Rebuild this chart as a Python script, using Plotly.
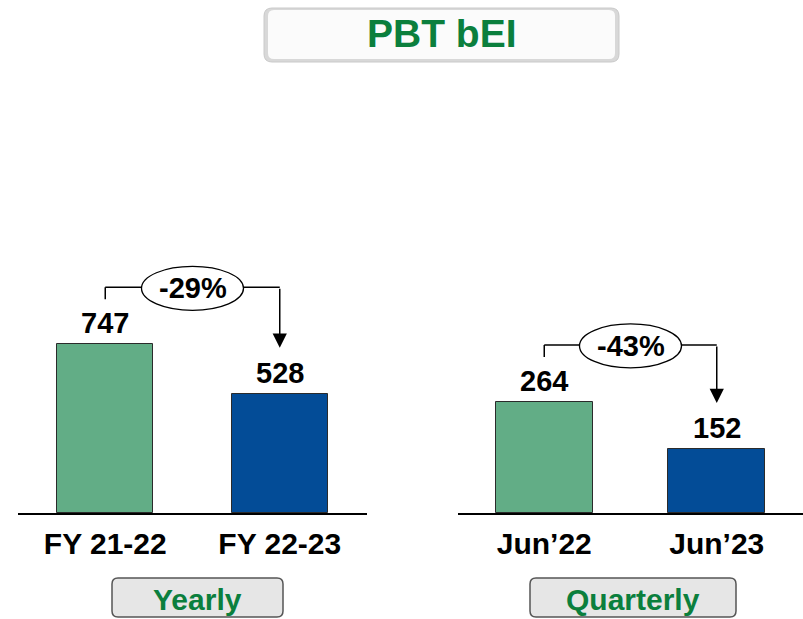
import plotly.graph_objects as go

# ---- data ----
years = ["FY 21-22", "FY 22-23"]
yearly_vals = [747, 528]
quarters = ["Jun’22", "Jun’23"]
quarterly_vals = [264, 152]
yearly_change = "-29%"
quarterly_change = "-43%"
panel_labels = ["Yearly", "Quarterly"]
title_text = "PBT bEI"

bar_colors = ["#62ad86", "#034c97"]
green_txt = "#0b7f3d"
FONT = "Liberation Sans, Arial, sans-serif"

W, H = 803, 619
BASE = 513          # baseline pixel row
YL_MAX = 2272       # left y range max
YR_MAX = 1219       # right y range max


def px(x):
    return x / W


def py(y):
    return 1 - y / H


fig = go.Figure()
fig.add_trace(go.Bar(x=years, y=yearly_vals, width=0.55,
                     marker=dict(color=bar_colors, line=dict(color="#2b2b2b", width=1)),
                     xaxis="x", yaxis="y", hoverinfo="skip"))
fig.add_trace(go.Bar(x=quarters, y=quarterly_vals, width=0.56,
                     marker=dict(color=bar_colors, line=dict(color="#2b2b2b", width=1)),
                     xaxis="x2", yaxis="y2", hoverinfo="skip"))

shapes = []
annotations = []


def rrect(x0, y0, x1, y1, r):
    # rounded rectangle path in paper coords from pixel values
    rx, ry = r / W, r / H
    X0, X1 = px(x0), px(x1)
    Y0, Y1 = py(y1), py(y0)  # Y0 bottom, Y1 top
    return (f"M{X0+rx},{Y1} L{X1-rx},{Y1} Q{X1},{Y1} {X1},{Y1-ry} "
            f"L{X1},{Y0+ry} Q{X1},{Y0} {X1-rx},{Y0} L{X0+rx},{Y0} "
            f"Q{X0},{Y0} {X0},{Y0+ry} L{X0},{Y1-ry} Q{X0},{Y1} {X0+rx},{Y1} Z")


# title box
shapes.append(dict(type="path", xref="paper", yref="paper", path=rrect(264, 8, 619, 62, 8),
                   fillcolor="#d8d8d8", line=dict(color="#cacaca", width=1), layer="below"))
shapes.append(dict(type="path", xref="paper", yref="paper", path=rrect(268, 10, 615, 59, 6),
                   fillcolor="#fbfbfb", line=dict(width=0), layer="below"))
annotations.append(dict(xref="paper", yref="paper", x=px(442), y=py(34), showarrow=False,
                        text=f"<b>{title_text}</b>", font=dict(family=FONT, size=39, color=green_txt),
                        xanchor="center", yanchor="middle"))

# panel label boxes
for (x0, x1), lab in zip([(112, 283), (530, 736)], panel_labels):
    shapes.append(dict(type="path", xref="paper", yref="paper", path=rrect(x0, 578, x1, 617, 6),
                       fillcolor="#e6e6e6", line=dict(color="#555555", width=1.5)))
    annotations.append(dict(xref="paper", yref="paper", x=px((x0 + x1) / 2), y=py(599),
                            showarrow=False, text=f"<b>{lab}</b>",
                            font=dict(family=FONT, size=30, color=green_txt),
                            xanchor="center", yanchor="middle"))


def connectors(xr, yr, vals, ymax, change, dom_px):
    s = BASE / ymax           # px per unit
    cat_px = dom_px / 2.0     # px per category
    g, b = vals
    y_h = g + 57 / s
    y_lb = g + 45 / s
    y_end = b + 46 / s
    for v_i, v in enumerate(vals):
        annotations.append(dict(xref=xr, yref=yr, x=v_i, y=v, yshift=21, showarrow=False,
                                text=f"<b>{v}</b>", font=dict(family=FONT, size=29, color="black"),
                                xanchor="center", yanchor="middle"))
    line = dict(color="black", width=1.5)
    shapes.append(dict(type="line", xref=xr, yref=yr, x0=0, x1=0, y0=y_lb, y1=y_h, line=line))
    shapes.append(dict(type="line", xref=xr, yref=yr, x0=0, x1=1, y0=y_h, y1=y_h, line=line))
    annotations.append(dict(xref=xr, yref=yr, x=1, y=y_end, ax=1, ay=y_h,
                            axref=xr, ayref=yr, text="", showarrow=True,
                            arrowhead=2, arrowsize=1.9, arrowwidth=1.5, arrowcolor="black"))
    shapes.append(dict(type="circle", xref=xr, yref=yr,
                       x0=0.5 - 51 / cat_px, x1=0.5 + 51 / cat_px,
                       y0=g + 34 / s, y1=g + 78 / s,
                       fillcolor="white", line=dict(color="black", width=1.3)))
    annotations.append(dict(xref=xr, yref=yr, x=0.5, y=g + 56 / s, showarrow=False,
                            text=f"<b>{change}</b>", font=dict(family=FONT, size=29, color="black"),
                            xanchor="center", yanchor="middle"))


connectors("x", "y", yearly_vals, YL_MAX, yearly_change, 367 - 18)
connectors("x2", "y2", quarterly_vals, YR_MAX, quarterly_change, 803 - 458)

xcommon = dict(type="category", range=[-0.5, 1.5], showline=True, linecolor="black",
               linewidth=1.5, ticks="", showgrid=False, zeroline=False,
               tickfont=dict(family=FONT, size=30, color="black", weight="bold"),
               ticklabelstandoff=3, fixedrange=True)
ycommon = dict(domain=[py(BASE), 1], visible=False, showgrid=False, zeroline=False, fixedrange=True)

fig.update_layout(
    width=W, height=H, margin=dict(l=0, r=0, t=0, b=0),
    paper_bgcolor="white", plot_bgcolor="rgba(0,0,0,0)",
    showlegend=False, bargap=0,
    xaxis=dict(domain=[px(18), px(367)], anchor="y", **xcommon),
    yaxis=dict(anchor="x", range=[0, YL_MAX], **ycommon),
    xaxis2=dict(domain=[px(458), 1], anchor="y2", **xcommon),
    yaxis2=dict(anchor="x2", range=[0, YR_MAX], **ycommon),
    shapes=shapes, annotations=annotations,
)

fig.write_html("out.html", config=dict(displayModeBar=False),
               post_script="document.body.style.margin='0';document.body.style.overflow='hidden';")
